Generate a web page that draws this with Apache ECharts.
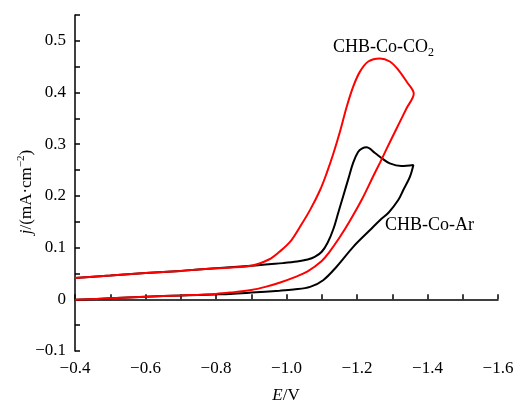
<!DOCTYPE html>
<html>
<head>
<meta charset="utf-8">
<title>CV</title>
<script src="https://cdn.jsdelivr.net/npm/echarts@6/dist/echarts.min.js"></script>
<style>
html, body { margin: 0; padding: 0; background: #fff; }
#chart { width: 515px; height: 401px; }
</style>
</head>
<body>
<div id="chart"></div>
<script>
// CHB-Co-Ar loop (forward branch then return branch)
var arE = [-0.40, -0.50, -0.60, -0.70, -0.80, -0.90, -0.95, -0.99, -1.03, -1.06, -1.08, -1.10, -1.117, -1.133, -1.147, -1.161, -1.175, -1.189, -1.203, -1.215, -1.227, -1.251, -1.27, -1.293, -1.326, -1.36,
           -1.35, -1.331, -1.317, -1.29, -1.265, -1.237, -1.19, -1.142, -1.104, -1.067, -1.02, -0.98, -0.90, -0.84, -0.80, -0.70, -0.60, -0.50, -0.40];
var arJ = [0.041, 0.046, 0.051, 0.055, 0.060, 0.065, 0.068, 0.070, 0.073, 0.077, 0.082, 0.092, 0.110, 0.136, 0.168, 0.200, 0.232, 0.264, 0.285, 0.292, 0.294, 0.283, 0.273, 0.263, 0.258, 0.260,
           0.237, 0.211, 0.192, 0.168, 0.153, 0.134, 0.102, 0.063, 0.037, 0.024, 0.019, 0.0166, 0.013, 0.0105, 0.0095, 0.0075, 0.005, 0.002, -0.001];

// CHB-Co-CO2 loop
var co2E = [-0.40, -0.50, -0.60, -0.70, -0.80, -0.90, -0.95, -0.98, -1.01, -1.038, -1.067, -1.095, -1.114, -1.133, -1.152, -1.171, -1.189, -1.208, -1.232, -1.265, -1.293, -1.317, -1.341, -1.361,
            -1.341, -1.312, -1.284, -1.265, -1.246, -1.213, -1.18, -1.15, -1.12, -1.10, -1.06, -1.02, -0.98, -0.94, -0.90, -0.84, -0.80, -0.70, -0.60, -0.50, -0.40];
var co2J = [0.041, 0.046, 0.051, 0.055, 0.060, 0.065, 0.077, 0.092, 0.111, 0.140, 0.173, 0.211, 0.244, 0.282, 0.325, 0.373, 0.411, 0.440, 0.460, 0.466, 0.460, 0.444, 0.421, 0.398,
            0.370, 0.330, 0.291, 0.264, 0.238, 0.192, 0.152, 0.119, 0.090, 0.074, 0.054, 0.042, 0.032, 0.024, 0.018, 0.013, 0.0105, 0.0075, 0.005, 0.002, -0.001];

var seriesNames = ['CHB-Co-Ar', 'CHB-Co-CO2'];

function pairs(xs, ys) {
  var out = [];
  for (var i = 0; i < xs.length; i++) out.push([xs[i], ys[i]]);
  return out;
}

function fmt(v) {
  var s = Math.abs(v) < 1e-9 ? '0' : v.toFixed(1);
  return s.replace('-', '\u2212');
}
// labels only on every other tick
function fmtX(v) { return Math.abs(Math.round(v * 10)) % 2 === 0 ? fmt(v) : ''; }
function fmtY(v) { return Math.abs(Math.round(v * 100)) % 10 === 0 ? fmt(v) : ''; }

var FONT = 'Liberation Serif';
var chart = echarts.init(document.getElementById('chart'));

chart.setOption({
  animation: false,
  grid: { left: 75, right: 17, top: 15, bottom: 50, outerBoundsMode: 'none' },
  xAxis: {
    type: 'value', inverse: true, min: -1.6, max: -0.4, interval: 0.1,
    axisLine: { lineStyle: { color: '#000', width: 1.5 } },
    axisTick: { inside: true, length: 5, lineStyle: { color: '#000', width: 1.5 } },
    axisLabel: { margin: 9, color: '#000', fontFamily: FONT, fontSize: 17, formatter: fmtX },
    splitLine: { show: false }
  },
  yAxis: {
    type: 'value', min: -0.1, max: 0.55, interval: 0.05,
    axisLine: { show: true, lineStyle: { color: '#000', width: 1.5 } },
    axisTick: { show: true, inside: true, length: 5, lineStyle: { color: '#000', width: 1.5 } },
    axisLabel: { margin: 9, color: '#000', fontFamily: FONT, fontSize: 17, formatter: fmtY },
    splitLine: { show: false }
  },
  series: [
    { name: seriesNames[0], type: 'line', data: pairs(arE, arJ), showSymbol: false, smooth: 0.35,
      lineStyle: { color: '#000', width: 2 } },
    { name: seriesNames[1], type: 'line', data: pairs(co2E, co2J), showSymbol: false, smooth: 0.35,
      lineStyle: { color: '#ff0000', width: 2 } }
  ],
  graphic: [
    { type: 'text', x: 333, y: 35, style: {
        text: 'CHB-Co-CO{sub|2}', fontFamily: FONT, fontSize: 18, fill: '#000', lineHeight: 24,
        rich: { sub: { fontFamily: FONT, fontSize: 12, lineHeight: 12, verticalAlign: 'bottom', fill: '#000' } } } },
    { type: 'text', x: 385, y: 216, style: {
        text: 'CHB-Co-Ar', fontFamily: FONT, fontSize: 18, fill: '#000' } },
    { type: 'text', x: 286, y: 396, style: {
        text: '{i|E}/V', fontFamily: FONT, fontSize: 17, fill: '#000', align: 'center', verticalAlign: 'middle',
        rich: { i: { fontFamily: FONT, fontSize: 17, fontStyle: 'italic', fill: '#000' } } } },
    { type: 'text', x: 27, y: 192, rotation: Math.PI / 2, style: {
        text: '{i|j}/(mA\u00b7cm{sup|\u22122})', fontFamily: FONT, fontSize: 17, fill: '#000', lineHeight: 22,
        align: 'center', verticalAlign: 'middle',
        rich: {
          i: { fontFamily: FONT, fontSize: 17, fontStyle: 'italic', fill: '#000', lineHeight: 22 },
          sup: { fontFamily: FONT, fontSize: 11, lineHeight: 12, verticalAlign: 'top', fill: '#000' }
        } } }
  ]
});
</script>
</body>
</html>
